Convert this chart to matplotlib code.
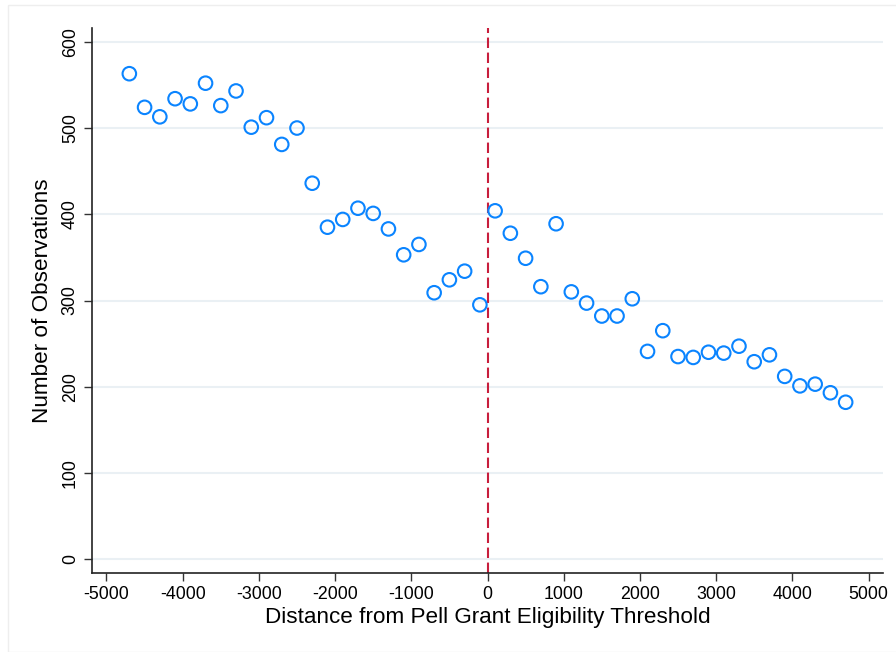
"""
Binned scatter: number of observations by distance from Pell Grant threshold
"""
import matplotlib
matplotlib.use('Agg')
import matplotlib.pyplot as plt
from matplotlib.patches import Rectangle

# bin centres (distance from threshold) and counts
dist_left = [-4700, -4500, -4300, -4100, -3900, -3700, -3500, -3300,
             -3100, -2900, -2700, -2500, -2300, -2100, -1900, -1700,
             -1500, -1300, -1100, -900, -700, -500, -300, -100]
count_left = [563, 524, 513, 534, 528, 552, 526, 543,
              501, 512, 481, 500, 436, 385, 394, 407,
              401, 383, 353, 365, 309, 324, 334, 295]

dist_right = [100, 300, 500, 700, 900, 1100, 1300, 1500,
              1700, 1900, 2100, 2300, 2500, 2700, 2900, 3100,
              3300, 3500, 3700, 3900, 4100, 4300, 4500, 4700]
count_right = [404, 378, 349, 316, 389, 310, 297, 282,
               282, 302, 241, 265, 235, 234, 240, 239,
               247, 229, 237, 212, 201, 203, 193, 182]

x_ticks = [-5000, -4000, -3000, -2000, -1000, 0, 1000, 2000, 3000, 4000, 5000]
y_ticks = [0, 100, 200, 300, 400, 500, 600]

plt.rcParams['font.family'] = ['Liberation Sans', 'DejaVu Sans']
plt.rcParams['axes.unicode_minus'] = False

fig = plt.figure(figsize=(8.96, 6.52), dpi=100)
fig.patches.append(Rectangle((8 / 896, 0), 1, 1 - 5 / 652, transform=fig.transFigure,
                             fill=False, edgecolor='#eeeeee', linewidth=1))
ax = fig.add_axes([92 / 896, 79 / 652, 791 / 896, 545 / 652])

for xs, ys in [(dist_left, count_left), (dist_right, count_right)]:
    ax.scatter(xs, ys, s=95, facecolors='none', edgecolors='#0a84ff',
               linewidths=1.5, zorder=3)

ax.axvline(0, color='#c81e3c', linestyle=(0, (5, 2.2)), linewidth=1.5, zorder=2)

ax.set_xlim(-5190, 5190)
ax.set_ylim(-16, 616)
ax.set_xticks(x_ticks)
ax.set_yticks(y_ticks)
ax.set_yticklabels([str(v) for v in y_ticks], rotation=90, va='center')
ax.tick_params(axis='both', labelsize=12.8, length=6, width=1, color='#333333')
ax.grid(axis='y', color='#eaf0f4', linewidth=1.5, zorder=0)
ax.set_axisbelow(True)

for side in ['top', 'right']:
    ax.spines[side].set_visible(False)
for side in ['left', 'bottom']:
    ax.spines[side].set_color('#222222')
    ax.spines[side].set_linewidth(1.2)

ax.set_xlabel('Distance from Pell Grant Eligibility Threshold', fontsize=16.2, labelpad=3)
ax.set_ylabel('Number of Observations', fontsize=16.2, labelpad=6)

plt.savefig('out.png', dpi=100)
plt.close()
